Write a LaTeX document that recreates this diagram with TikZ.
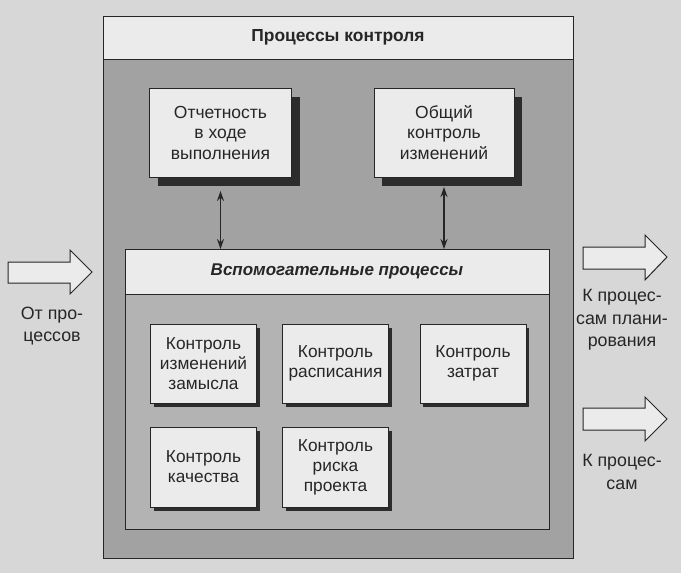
\documentclass[tikz,border=0pt]{standalone}
\usepackage{fontspec}
\setmainfont{Liberation Sans}
\usetikzlibrary{arrows.meta,shadows}
\definecolor{bgc}{HTML}{D7D7D7}
\definecolor{lightc}{HTML}{EBEBEB}
\definecolor{outerc}{HTML}{A2A2A2}
\definecolor{innerc}{HTML}{B3B3B3}
\definecolor{inkc}{HTML}{262626}
\definecolor{shadc}{HTML}{2C2C2C}
\begin{document}
\begin{tikzpicture}[x=1pt,y=-1pt,
  every node/.style={inner sep=0pt, outer sep=0pt, text=inkc},
  frame/.style={draw=inkc, line width=1pt},
  band/.style={frame, fill=lightc, font=\fontsize{17.4}{20}\selectfont\bfseries},
  bigbox/.style={frame, fill=lightc, align=center, minimum width=142, minimum height=89,
    font=\fontsize{17.5}{20.5}\selectfont,
    drop shadow={shadow xshift=8pt, shadow yshift=-9pt, fill=shadc, opacity=1}},
  smallbox/.style={frame, fill=lightc, align=center, minimum width=106, minimum height=79,
    font=\fontsize{17.3}{20}\selectfont,
    drop shadow={shadow xshift=3pt, shadow yshift=-4pt, fill=shadc, opacity=1}},
  blockarrow/.style={draw=inkc, line width=1pt, fill=lightc, line join=miter},
  sidetext/.style={align=center, font=\fontsize{17.8}{22.5}\selectfont},
  link/.style={draw=inkc, line width=1.6pt, {Stealth[length=10pt,width=7pt]}-{Stealth[length=10pt,width=7pt]}}
]
\useasboundingbox (0,0) rectangle (681,573);
\fill[bgc] (0,0) rectangle (681,573);

% outer frame
\node[frame, fill=outerc, minimum width=470, minimum height=542] (O) at (338,287) {};
\node[band, minimum width=470, minimum height=43] (OH) at (338,37.5) {Процессы контроля};

% upper boxes
\node[bigbox] (A) at (220.5,132.5) {Отчетность\\в ходе\\выполнения};
\node[bigbox, minimum width=140] (B) at (444,132.5) {Общий\\контроль\\изменений};

% supporting processes
\node[frame, fill=innerc, minimum width=424, minimum height=280] (S) at (337,389) {};
\node[band, minimum width=424, minimum height=45, font=\fontsize{17}{20}\selectfont\bfseries\itshape] (SH) at (337,271.5) {Вспомогательные процессы};

\draw[link, shorten <=14pt] (A.south) -- (A.south |- SH.north);
\draw[link, shorten <=10pt] (B.south) -- (B.south |- SH.north);

% small boxes
\node[smallbox] (C1) at (203.5,363.5) {Контроль\\изменений\\замысла};
\node[smallbox] (C2) at (335.5,363.5) {Контроль\\расписания};
\node[smallbox] (C3) at (473,363.5) {Контроль\\затрат};
\node[smallbox, minimum height=80] (C4) at (203.5,467) {Контроль\\качества};
\node[smallbox, minimum height=80] (C5) at (335.5,467) {Контроль\\риска\\проекта};

% block arrows
\draw[blockarrow] (8,262) -- (70,262) -- (70,250) -- (92,272) -- (70,294) -- (70,283) -- (8,283) -- cycle;
\draw[blockarrow] (583,247) -- (645,247) -- (645,235) -- (667,257) -- (645,280) -- (645,269) -- (583,269) -- cycle;
\draw[blockarrow] (583,408) -- (645,408) -- (645,397) -- (667,419) -- (645,441) -- (645,430) -- (583,430) -- cycle;

% side texts
\node[sidetext] (L) at (52,326) {От про-\\цессов};
\node[sidetext] (R1) at (622,320) {К процес-\\сам плани-\\рования};
\node[sidetext] (R2) at (622,472) {К процес-\\сам};
\end{tikzpicture}
\end{document}
